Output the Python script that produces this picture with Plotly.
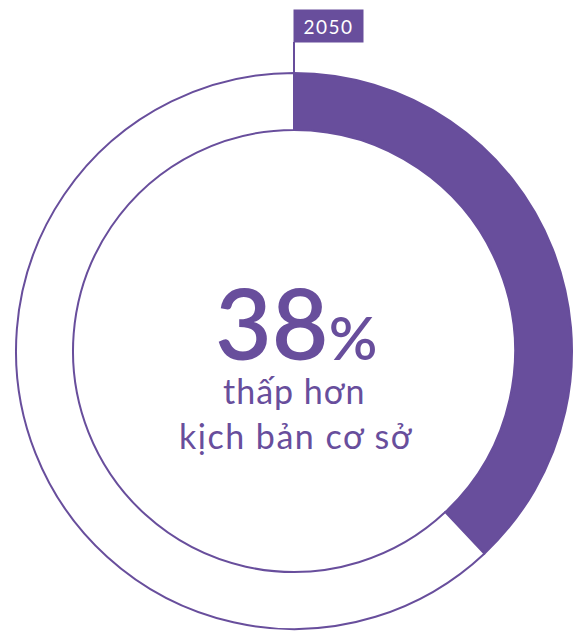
import plotly.graph_objects as go

# Share of emissions reduction vs. baseline in 2050
labels = ["Giảm", "Còn lại"]
values = [38, 62]
year_label = "2050"
caption_lines = ["thấp hơn", "kịch bản cơ sở"]

PURPLE = "#684e9c"
W, H = 575, 632

# pie geometry in pixels (centre and outer radius)
cx, cy, r_out, r_in = 294, 351, 278, 221

fig = go.Figure()
fig.add_trace(go.Pie(
    labels=labels,
    values=values,
    hole=r_in / r_out,
    sort=False,
    direction="clockwise",
    rotation=0,
    textinfo="none",
    hoverinfo="label+percent",
    showlegend=False,
    marker=dict(colors=[PURPLE, "white"], line=dict(color=PURPLE, width=2)),
    domain=dict(
        x=[(cx - r_out) / W, (cx + r_out) / W],
        y=[(H - cy - r_out) / H, (H - cy + r_out) / H],
    ),
))

share = round(100 * values[0] / sum(values))
font = "Lato"

fig.add_annotation(
    x=296 / W, y=1 - 357 / H, xref="paper", yref="paper",
    text=f"{share}<span style='font-size:60px'>%</span>",
    showarrow=False, font=dict(family=font, size=98, color=PURPLE, weight=600),
    xanchor="center", yanchor="bottom", yshift=-26,
)
fig.add_annotation(
    x=cx / W, y=1 - 390 / H, xref="paper", yref="paper",
    text=f"<span style='letter-spacing:1px'>{caption_lines[0]}</span>",
    showarrow=False,
    font=dict(family=font, size=34, color=PURPLE),
    xanchor="center", yanchor="middle",
)
fig.add_annotation(
    x=296 / W, y=1 - 435 / H, xref="paper", yref="paper",
    text=f"<span style='letter-spacing:1.5px'>{caption_lines[1]}</span>",
    showarrow=False,
    font=dict(family=font, size=34, color=PURPLE),
    xanchor="center", yanchor="middle",
)

# year tag with a leader line down to the inner ring
fig.add_shape(
    type="line", xref="paper", yref="paper",
    x0=cx / W, x1=cx / W, y0=1 - 42 / H, y1=1 - (cy - r_in) / H,
    line=dict(color=PURPLE, width=2),
)
fig.add_annotation(
    x=293 / W, y=1 - 26 / H, xref="paper", yref="paper",
    text=f"<span style='letter-spacing:1.5px'>{year_label}</span>",
    showarrow=False,
    font=dict(family=font, size=19, color="white"),
    bgcolor=PURPLE, borderpad=5, width=59, height=22,
    xanchor="left", yanchor="middle",
)

fig.update_layout(
    width=W, height=H,
    margin=dict(l=0, r=0, t=0, b=0),
    paper_bgcolor="white", plot_bgcolor="white",
)

fig.write_html("out.html")
